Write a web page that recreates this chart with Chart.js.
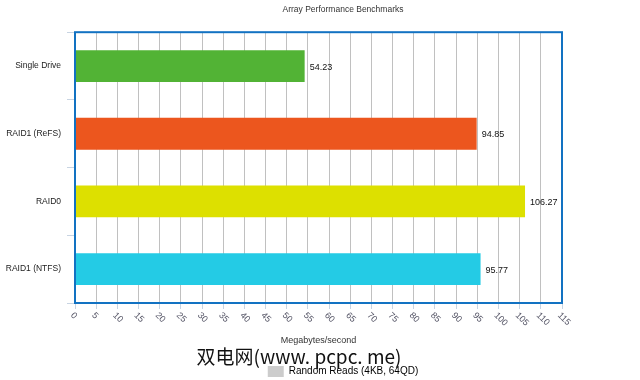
<!DOCTYPE html>
<html>
<head>
<meta charset="utf-8">
<script src="https://cdn.jsdelivr.net/npm/chart.js@4.4.0/dist/chart.umd.min.js"></script>
<style>
  html, body { margin: 0; padding: 0; background: #fff; }
  #wrap { position: relative; width: 640px; height: 380px; }
</style>
</head>
<body>
<div id="wrap"><canvas id="bench-chart" width="640" height="380"></canvas></div>
<script>
// Dados do gráfico
const drives = ['Single Drive', 'RAID1 (ReFS)', 'RAID0', 'RAID1 (NTFS)'];
const randomReads = [54.23, 94.85, 106.27, 95.77];
const barColors = ['#52b335', '#ec561e', '#dde000', '#24cbe5'];
const xTicks = [0, 5, 10, 15, 20, 25, 30, 35, 40, 45, 50, 55, 60, 65, 70, 75, 80, 85, 90, 95, 100, 105, 110, 115];

const baseFont = 'Liberation Sans, Arial, sans-serif';

// Moldura azul, rótulos dos valores, ticks girados e marca d'água
const extrasPlugin = {
    id: 'extras',
    afterLayout(chart) {
        // título e legenda ficam deslocados para a direita no original
        const shift = 62;
        chart.titleBlock.left += shift;
        chart.titleBlock.right += shift;
        chart.legend.left += shift;
        chart.legend.right += shift;
        chart.legend.top += 7;
        chart.legend.bottom += 7;
    },
    afterDatasetsDraw(chart) {
        const ctx = chart.ctx;
        const area = chart.chartArea;
        const meta = chart.getDatasetMeta(0);
        ctx.save();
        ctx.font = '9px ' + baseFont;
        ctx.fillStyle = '#111';
        ctx.textBaseline = 'middle';
        ctx.textAlign = 'left';
        meta.data.forEach((bar, i) => {
            ctx.fillText(randomReads[i].toFixed(2), bar.x + 5, bar.y + 1);
        });

        ctx.strokeStyle = '#1272c2';
        ctx.lineWidth = 2;
        ctx.strokeRect(area.left, area.top, area.right - area.left, area.bottom - area.top);

        // rótulos do eixo X girados 45 graus
        const xScale = chart.scales.x;
        ctx.fillStyle = '#556';
        ctx.font = '9px ' + baseFont;
        ctx.textAlign = 'left';
        ctx.textBaseline = 'middle';
        xTicks.forEach(v => {
            const px = xScale.getPixelForValue(v);
            ctx.save();
            ctx.translate(px - 3, area.bottom + 11);
            ctx.rotate(Math.PI / 4);
            ctx.fillText(String(v), 0, 0);
            ctx.restore();
        });

        ctx.fillStyle = '#111';
        ctx.font = '19px "Noto Sans CJK SC", sans-serif';
        ctx.textAlign = 'center';
        ctx.fillText('双电网(www. pcpc. me)', 299, 357);
        ctx.restore();
    }
};

const ctx = document.getElementById('bench-chart').getContext('2d');
new Chart(ctx, {
    type: 'bar',
    data: {
        labels: drives,
        datasets: [{
            label: 'Random Reads (4KB, 64QD)',
            data: randomReads,
            backgroundColor: barColors,
            borderWidth: 0,
            categoryPercentage: 1,
            barPercentage: 0.47
        }]
    },
    options: {
        indexAxis: 'y',
        responsive: false,
        animation: false,
        layout: { padding: { left: 0, right: 78, top: 0, bottom: 0 } },
        plugins: {
            title: {
                display: true,
                text: 'Array Performance Benchmarks',
                color: '#333',
                font: { family: baseFont, size: 8.5, weight: 'normal' },
                padding: { top: 5, bottom: 17 }
            },
            legend: {
                position: 'bottom',
                labels: {
                    color: '#444',
                    font: { family: baseFont, size: 10 },
                    boxWidth: 16,
                    boxHeight: 11,
                    padding: 10,
                    generateLabels: chart => [{
                        text: chart.data.datasets[0].label,
                        fillStyle: '#cccccc',
                        strokeStyle: '#cccccc',
                        lineWidth: 0,
                        datasetIndex: 0
                    }]
                }
            },
            tooltip: { enabled: false }
        },
        scales: {
            x: {
                min: 0,
                max: 115,
                afterFit: scale => { scale.height = 46; },
                ticks: {
                    stepSize: 5,
                    color: 'rgba(0,0,0,0)',
                    font: { family: baseFont, size: 9 },
                    minRotation: 45,
                    maxRotation: 45
                },
                grid: {
                    color: '#c0c0c0',
                    tickColor: '#c8d4e2',
                    tickLength: 6
                },
                border: { display: false },
                title: {
                    display: true,
                    text: 'Megabytes/second',
                    color: '#333',
                    font: { family: baseFont, size: 9 },
                    padding: { top: 0, bottom: 3 }
                }
            },
            y: {
                afterFit: scale => { scale.width = 75; },
                ticks: {
                    color: '#222',
                    font: { family: baseFont, size: 8.5 },
                    padding: 6
                },
                grid: {
                    drawOnChartArea: false,
                    tickColor: '#c8d4e2',
                    tickLength: 8
                },
                border: { display: false }
            }
        }
    },
    plugins: [extrasPlugin]
});
</script>
</body>
</html>
